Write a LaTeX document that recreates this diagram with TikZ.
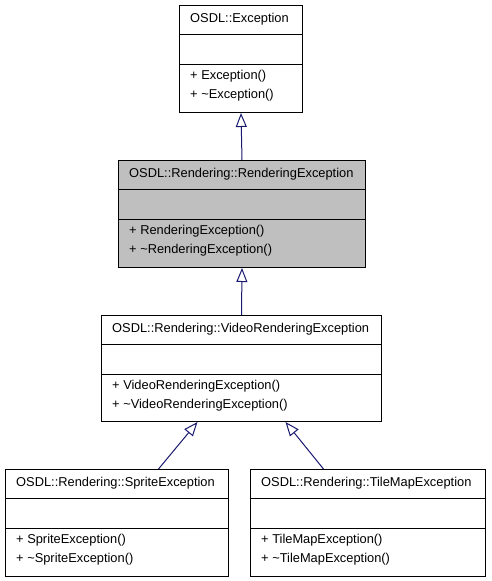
\documentclass[tikz,border=0pt]{standalone}
\usepackage{fontspec}
\setmainfont{Liberation Sans}
\usetikzlibrary{arrows.meta}
\definecolor{edgeblue}{HTML}{191970}
\definecolor{boxgrey}{HTML}{BFBFBF}
\tikzset{
  classbox/.style={draw=black, line width=1pt, anchor=north west, inner sep=0pt},
  divider/.style={draw=black, line width=1pt},
  label/.style={anchor=west, inner sep=0pt, font=\fontsize{12.85}{14}\selectfont},
  inherit/.style={draw=edgeblue, line width=1pt, -{Triangle[open, length=14pt, width=11pt, fill=white]}},
}
% name, x1, y1, width, height, fill, title, member1, member2
\newcommand{\umlbox}[9]{%
  \node[classbox, fill=#6, minimum width=#4pt, minimum height=#5pt] (#1) at (#2,#3) {};
  \draw[divider] ([yshift=-29pt]#1.north west) -- ([yshift=-29pt]#1.north east);
  \draw[divider] ([yshift=-59pt]#1.north west) -- ([yshift=-59pt]#1.north east);
  \node[label] (#1t) at ([xshift=11pt,yshift=-14pt]#1.north west) {#7};
  \node[label] (#1m1) at ([xshift=11pt,yshift=-71.5pt]#1.north west) {+ #8};
  \node[label] (#1m2) at ([xshift=11pt,yshift=-90.5pt]#1.north west) {+ #9};
}
\begin{document}
\begin{tikzpicture}[x=1pt, y=-1pt]
\useasboundingbox[fill=white] (0,0) rectangle (491,581);
\umlbox{b1}{179}{5}{123}{107}{white}{OSDL::Exception}{Exception()}{\textasciitilde Exception()}
\umlbox{b2}{118}{160}{247}{107}{boxgrey}{OSDL::Rendering::RenderingException}{RenderingException()}{\textasciitilde RenderingException()}
\umlbox{b3}{101}{315}{280}{106}{white}{OSDL::Rendering::VideoRenderingException}{VideoRenderingException()}{\textasciitilde VideoRenderingException()}
\umlbox{b4}{5}{469}{223}{107}{white}{OSDL::Rendering::SpriteException}{SpriteException()}{\textasciitilde SpriteException()}
\umlbox{b5}{250}{469}{235}{107}{white}{OSDL::Rendering::TileMapException}{TileMapException()}{\textasciitilde TileMapException()}
\draw[inherit] (b2.north) -- (b1.south);
\draw[inherit] (b3.north) -- (b2.south);
\draw[inherit] ([xshift=41.5pt]b4.north) -- ([xshift=-44pt]b3.south);
\draw[inherit] ([xshift=-44.5pt]b5.north) -- ([xshift=44pt]b3.south);
\end{tikzpicture}
\end{document}
